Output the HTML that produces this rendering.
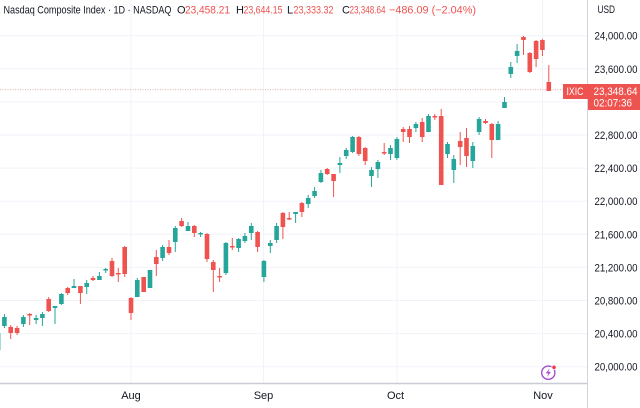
<!DOCTYPE html>
<html><head><meta charset="utf-8"><style>
html,body{margin:0;padding:0;background:#fff;width:640px;height:408px;overflow:hidden}
svg{display:block;font-family:"Liberation Sans",sans-serif}
</style></head><body>
<svg width="640" height="408" viewBox="0 0 640 408" xmlns="http://www.w3.org/2000/svg">
<rect width="640" height="408" fill="#fff"/>
<g stroke="#f0f3fa" stroke-width="1">
<path d="M0 35.7H587M0 68.8H587M0 101.9H587M0 135H587M0 168.1H587M0 201.2H587M0 234.3H587M0 267.4H587M0 300.5H587M0 333.6H587M0 366.7H587"/>
<path d="M131 0V383M263.5 0V383M397 0V383M542.5 0V383"/>
</g>
<line x1="0" y1="89.6" x2="563" y2="89.6" stroke="#d98c8c" stroke-width="1" stroke-dasharray="1 1.5" opacity="0.7"/>
<path fill="none" stroke="#26a69a" stroke-width="1" d="M-1.9 328V352 M4.4 314V328 M23.4 315V327 M36.1 315V324 M42.4 312V326 M55 306V324 M61.4 293V305 M74 279V288 M86.7 280V294 M99.4 272V280 M105.7 268V273 M137.3 278V297 M150 270V288 M162.6 245V261 M175.3 226V252 M188 222V231 M200.6 232V237 M225.9 242V275 M238.6 238V252 M244.9 233V243 M251.3 223V240 M263.9 260V282 M270.3 240V253 M276.6 223V243 M295.6 212V223 M308.2 195V208 M314.6 187V198 M320.9 170V183 M339.9 157V173 M346.2 148V159 M352.6 136V153 M371.5 167V187 M377.9 160V178 M390.5 145V160 M396.9 137V160 M415.9 122V132 M428.5 114V132 M447.5 142V158 M453.8 155V183 M472.8 142V168 M479.1 117V135 M498.1 121V140 M504.5 97V108 M510.8 62V78 M517.1 44V63"/>
<path fill="none" stroke="#ef5350" stroke-width="1" d="M10.7 325V339 M17.1 326V335 M29.7 313V325 M48.7 297V312 M67.7 287V295 M80.4 286V304 M93 276V281 M112 258V277 M118.3 268V282 M124.7 246V277 M131 297V320 M143.7 277V292 M156.3 250V276 M169 240V255 M181.6 218V227 M194.3 225V237 M207 233V262 M213.3 260V292 M219.6 268V282 M232.3 238V250 M257.6 231V252 M282.9 212V239 M289.2 212V220 M301.9 202V217 M327.2 168V175 M333.6 174V197 M358.9 136V156 M365.2 147V165 M384.2 143V155 M403.2 127V142 M409.5 126V143 M422.2 118V142 M434.8 114V120 M441.2 109V185 M460.2 132V165 M466.5 128V167 M485.5 119V124 M491.8 123V158 M523.5 36V55 M529.8 52V73 M536.1 40V67 M542.4 39V56 M548.8 65V91"/>
<g fill="#26a69a">
<rect x="-4.2" y="333" width="4.6" height="17"/>
<rect x="2.1" y="317" width="4.6" height="9"/>
<rect x="21.1" y="317" width="4.6" height="7"/>
<rect x="33.8" y="318" width="4.6" height="2"/>
<rect x="40.1" y="314" width="4.6" height="4"/>
<rect x="52.7" y="306" width="4.6" height="2"/>
<rect x="59.1" y="294" width="4.6" height="10"/>
<rect x="71.7" y="286" width="4.6" height="2"/>
<rect x="84.4" y="283" width="4.6" height="4"/>
<rect x="97.1" y="276" width="4.6" height="4"/>
<rect x="103.4" y="269" width="4.6" height="1.5"/>
<rect x="135" y="280" width="4.6" height="17"/>
<rect x="147.7" y="270" width="4.6" height="18"/>
<rect x="160.3" y="247" width="4.6" height="11"/>
<rect x="173" y="228" width="4.6" height="14"/>
<rect x="185.7" y="226" width="4.6" height="5"/>
<rect x="198.3" y="233" width="4.6" height="1.5"/>
<rect x="223.6" y="243" width="4.6" height="30"/>
<rect x="236.3" y="239" width="4.6" height="9"/>
<rect x="242.6" y="236" width="4.6" height="5"/>
<rect x="249" y="226" width="4.6" height="7"/>
<rect x="261.6" y="261" width="4.6" height="16"/>
<rect x="268" y="243" width="4.6" height="3"/>
<rect x="274.3" y="226" width="4.6" height="14"/>
<rect x="293.3" y="212" width="4.6" height="2"/>
<rect x="305.9" y="198" width="4.6" height="6"/>
<rect x="312.3" y="191" width="4.6" height="5"/>
<rect x="318.6" y="173" width="4.6" height="9"/>
<rect x="337.6" y="163" width="4.6" height="2"/>
<rect x="343.9" y="150" width="4.6" height="6"/>
<rect x="350.3" y="137" width="4.6" height="15"/>
<rect x="369.2" y="170" width="4.6" height="6"/>
<rect x="375.6" y="162" width="4.6" height="7"/>
<rect x="388.2" y="148" width="4.6" height="6"/>
<rect x="394.6" y="139" width="4.6" height="19"/>
<rect x="413.6" y="124" width="4.6" height="4"/>
<rect x="426.2" y="116" width="4.6" height="16"/>
<rect x="445.2" y="144" width="4.6" height="10"/>
<rect x="451.5" y="159" width="4.6" height="11"/>
<rect x="470.5" y="146" width="4.6" height="15"/>
<rect x="476.8" y="119" width="4.6" height="13"/>
<rect x="495.8" y="124" width="4.6" height="16"/>
<rect x="502.2" y="102" width="4.6" height="6"/>
<rect x="508.5" y="67" width="4.6" height="7"/>
<rect x="514.8" y="51" width="4.6" height="5"/>
</g>
<g fill="#ef5350">
<rect x="8.4" y="327" width="4.6" height="6"/>
<rect x="14.8" y="328" width="4.6" height="5"/>
<rect x="27.4" y="314" width="4.6" height="1.5"/>
<rect x="46.4" y="299" width="4.6" height="12"/>
<rect x="65.4" y="288" width="4.6" height="5"/>
<rect x="78.1" y="286" width="4.6" height="7"/>
<rect x="90.7" y="278" width="4.6" height="2"/>
<rect x="109.7" y="261" width="4.6" height="15"/>
<rect x="116" y="273" width="4.6" height="1.5"/>
<rect x="122.4" y="247" width="4.6" height="27"/>
<rect x="128.7" y="298" width="4.6" height="15"/>
<rect x="141.4" y="277" width="4.6" height="15"/>
<rect x="154" y="257" width="4.6" height="7"/>
<rect x="166.7" y="247" width="4.6" height="6"/>
<rect x="179.3" y="221" width="4.6" height="5"/>
<rect x="192" y="226" width="4.6" height="7"/>
<rect x="204.7" y="234" width="4.6" height="25"/>
<rect x="211" y="262" width="4.6" height="8"/>
<rect x="217.3" y="276" width="4.6" height="1.5"/>
<rect x="230" y="246" width="4.6" height="1.5"/>
<rect x="255.3" y="232" width="4.6" height="15"/>
<rect x="280.6" y="213" width="4.6" height="14"/>
<rect x="286.9" y="218" width="4.6" height="1.5"/>
<rect x="299.6" y="203" width="4.6" height="9"/>
<rect x="324.9" y="169" width="4.6" height="5"/>
<rect x="331.3" y="174" width="4.6" height="7"/>
<rect x="356.6" y="137" width="4.6" height="17"/>
<rect x="362.9" y="148" width="4.6" height="13"/>
<rect x="381.9" y="152" width="4.6" height="1.5"/>
<rect x="400.9" y="129" width="4.6" height="3"/>
<rect x="407.2" y="129" width="4.6" height="8"/>
<rect x="419.9" y="122" width="4.6" height="15"/>
<rect x="432.5" y="116" width="4.6" height="1.5"/>
<rect x="438.9" y="116" width="4.6" height="69"/>
<rect x="457.9" y="141" width="4.6" height="6"/>
<rect x="464.2" y="138" width="4.6" height="18"/>
<rect x="483.2" y="121" width="4.6" height="2"/>
<rect x="489.5" y="124" width="4.6" height="16"/>
<rect x="521.2" y="37" width="4.6" height="3"/>
<rect x="527.5" y="53" width="4.6" height="19"/>
<rect x="533.8" y="41" width="4.6" height="18"/>
<rect x="540.1" y="40" width="4.6" height="10"/>
<rect x="546.5" y="82" width="4.6" height="9"/>
</g>
<line x1="587.5" y1="0" x2="587.5" y2="408" stroke="#d1d4dc" stroke-width="1"/>
<line x1="0" y1="383.5" x2="587" y2="383.5" stroke="#c9ccd4" stroke-width="1.5"/>
<g font-size="11" fill="#131722">
<text x="3.5" y="13.5" textLength="168" lengthAdjust="spacingAndGlyphs">Nasdaq Composite Index · 1D · NASDAQ</text>
<text x="177" y="13.5">O</text>
<text x="236" y="13.5">H</text>
<text x="287" y="13.5">L</text>
<text x="342" y="13.5">C</text>
</g>
<g font-size="11" fill="#ef5350">
<text x="185" y="13.5" textLength="45" lengthAdjust="spacingAndGlyphs">23,458.21</text>
<text x="243.5" y="13.5" textLength="39" lengthAdjust="spacingAndGlyphs">23,644.15</text>
<text x="293.5" y="13.5" textLength="40" lengthAdjust="spacingAndGlyphs">23,333.32</text>
<text x="349.5" y="13.5" textLength="36" lengthAdjust="spacingAndGlyphs">23,348.64</text>
<text x="389" y="13.5" textLength="87" lengthAdjust="spacingAndGlyphs">−486.09 (−2.04%)</text>
</g>
<g font-size="11" fill="#131722">
<text x="597.5" y="13" textLength="17.5" lengthAdjust="spacingAndGlyphs">USD</text>
<text x="594.5" y="39.7" textLength="43" lengthAdjust="spacingAndGlyphs">24,000.00</text>
<text x="594.5" y="72.8" textLength="43" lengthAdjust="spacingAndGlyphs">23,600.00</text>
<text x="594.5" y="139" textLength="43" lengthAdjust="spacingAndGlyphs">22,800.00</text>
<text x="594.5" y="172.1" textLength="43" lengthAdjust="spacingAndGlyphs">22,400.00</text>
<text x="594.5" y="205.2" textLength="43" lengthAdjust="spacingAndGlyphs">22,000.00</text>
<text x="594.5" y="238.3" textLength="43" lengthAdjust="spacingAndGlyphs">21,600.00</text>
<text x="594.5" y="271.4" textLength="43" lengthAdjust="spacingAndGlyphs">21,200.00</text>
<text x="594.5" y="304.5" textLength="43" lengthAdjust="spacingAndGlyphs">20,800.00</text>
<text x="594.5" y="337.6" textLength="43" lengthAdjust="spacingAndGlyphs">20,400.00</text>
<text x="594.5" y="370.7" textLength="43" lengthAdjust="spacingAndGlyphs">20,000.00</text>
</g>
<rect x="563" y="84" width="25" height="15" fill="#ef5350"/>
<rect x="588" y="84" width="52" height="26" fill="#ef5350"/>
<g font-size="11" fill="#fff">
<text x="566.5" y="95" textLength="17" lengthAdjust="spacingAndGlyphs">IXIC</text>
<text x="593.5" y="95" textLength="44" lengthAdjust="spacingAndGlyphs">23,348.64</text>
<text x="593.5" y="106.5" textLength="38.5" lengthAdjust="spacingAndGlyphs">02:07:36</text>
</g>
<g font-size="11" fill="#131722" text-anchor="middle">
<text x="131" y="399">Aug</text>
<text x="263.5" y="399">Sep</text>
<text x="395.5" y="399">Oct</text>
<text x="543" y="399">Nov</text>
</g>
<circle cx="548.3" cy="372.7" r="6.6" fill="#fff" stroke="#a24bd1" stroke-width="1.4"/>
<path d="M549.6 368.3 L545.8 373.4 L548.4 373.4 L547 377.2 L550.9 371.9 L548.3 371.9 Z" fill="#a24bd1"/>
<circle cx="554" cy="367.3" r="2.2" fill="#f23645" stroke="#fff" stroke-width="0.8"/>
</svg>
</body></html>
